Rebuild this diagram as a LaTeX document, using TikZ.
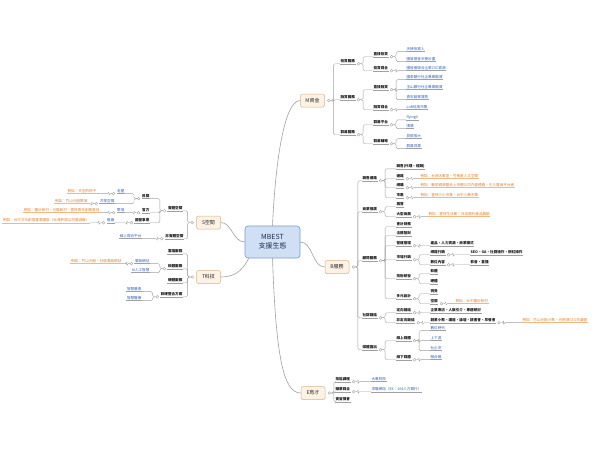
\documentclass[tikz,border=0pt]{standalone}
\usepackage{fontspec}
\setmainfont{Noto Sans CJK TC}
\usepackage{tikz}
\usepackage{xcolor}
\definecolor{rootfill}{RGB}{207, 224, 245}
\definecolor{rootline}{RGB}{120, 155, 205}
\definecolor{rootink}{RGB}{30, 45, 80}
\definecolor{boxfill}{RGB}{253, 242, 228}
\definecolor{boxline}{RGB}{215, 180, 140}
\definecolor{linkgray}{RGB}{160, 160, 160}
\definecolor{bluefig}{RGB}{45, 95, 185}
\definecolor{orangefig}{RGB}{230, 125, 35}
\definecolor{orangeline}{RGB}{240, 185, 130}
\tikzset{
    rootbox/.style={draw=rootline, fill=rootfill, rounded corners=3pt, line width=0.6pt, minimum width=55pt, minimum height=32pt, align=center, text=rootink, font=\fontsize{7}{9}\selectfont},
    branchbox/.style={draw=boxline, fill=boxfill, rounded corners=2pt, line width=0.5pt, minimum width=24pt, minimum height=13pt, inner sep=1pt, font=\fontsize{5}{6}\selectfont, text=black!85},
    topic/.style={anchor=west, inner xsep=0.4pt, inner ysep=0.8pt, font=\fontsize{3.6}{4}\selectfont\bfseries, text=black!90},
    ltopic/.style={topic, anchor=east},
    bluetext/.style={text=bluefig, font=\fontsize{3.6}{4}\selectfont},
    orangetext/.style={text=orangefig, font=\fontsize{3.6}{4}\selectfont},
    knob/.style={circle, draw=linkgray, fill=white, line width=0.35pt, inner sep=0pt, minimum size=2.8pt},
    link/.style={line width=0.4pt, color=linkgray, rounded corners=1.5pt},
    curvelink/.style={line width=0.6pt, color=linkgray}
}
\newcommand{\rlink}[3][linkgray]{%
    \draw[link] (#2.east) -- ++(3,0) |- (#3.south west);
    \draw[link, color=#1] (#3.south west) -- (#3.south east);}
\newcommand{\llink}[3][linkgray]{%
    \draw[link] (#2.west) -- ++(-3,0) |- (#3.south east);
    \draw[link, color=#1] (#3.south east) -- (#3.south west);}

\begin{document}
\begin{tikzpicture}[x=1pt, y=-1pt]
    \path[use as bounding box, fill=white] (0,0) rectangle (600,448);

    % centre and the five branches
    \node[rootbox] (root) at (272.5,242) {MBEST\\支援生態};
    \node[branchbox] (M) at (312.5,100.5) {M資金};
    \node[branchbox] (B) at (337,267) {B服務};
    \node[branchbox] (E) at (313,393) {E育才};
    \node[branchbox] (S) at (208.5,222.5) {S空間};
    \node[branchbox] (T) at (208.5,277) {T科技};

    \draw[curvelink] (root.north) .. controls (275,170) and (283,100.5) .. (M.west);
    \draw[curvelink] (root.east) .. controls (313,242) and (312,267) .. (B.west);
    \draw[curvelink] (root.south) .. controls (276,360) and (284,393) .. (E.west);
    \draw[curvelink] (root.west) .. controls (233,242) and (232,222.5) .. (S.east);
    \draw[curvelink] ([xshift=4pt]root.south west) .. controls (242,272) and (233,277) .. (T.east);

    % M
    \node[topic] (m1) at (340,61) {投資服務};
    \node[topic] (m11) at (373,54) {直接投資};
    \node[topic, bluetext] (m111) at (406,49) {天使投資人};
    \node[topic, bluetext] (m112) at (406,59) {國發基金天使計畫};
    \node[topic] (m12) at (373,68) {投資媒合};
    \node[topic, bluetext] (m121) at (406,68) {國發會媒合企業CVC資源};
    \node[topic] (m2) at (340,97) {融資服務};
    \node[topic] (m21) at (373,87) {直接融資};
    \node[topic, bluetext] (m211) at (406,77) {國泰銀行社企專案融資};
    \node[topic, bluetext] (m212) at (406,87) {玉山銀行社企專案融資};
    \node[topic, bluetext] (m213) at (406,97) {青年創業貸款};
    \node[topic] (m22) at (373,107) {融資媒合};
    \node[topic, bluetext] (m221) at (406,107) {LnB信用市集};
    \node[topic] (m3) at (340,132) {群募服務};
    \node[topic] (m31) at (373,122) {群募平台};
    \node[topic, bluetext] (m311) at (406,117) {flyingV};
    \node[topic, bluetext] (m312) at (406,126) {嘖嘖};
    \node[topic] (m32) at (373,141) {群募輔導};
    \node[topic, bluetext] (m321) at (406,136) {貝殼放大};
    \node[topic, bluetext] (m322) at (406,146) {群募貝果};

    % B
    \node[topic] (b1) at (362,178) {銷售通路};
    \node[topic] (b11) at (396,166) {銷售(代理、經銷)};
    \node[topic] (b12) at (396,176) {通路};
    \node[topic, orangetext] (b121) at (420,176) {例如：台西冰果室、竹南是人文空間};
    \node[topic] (b13) at (396,185) {網購};
    \node[topic, orangetext] (b131) at (420,185) {例如：動態資源整合上市櫃公司內部通路，引入電商平台者};
    \node[topic] (b14) at (396,195) {市集};
    \node[topic, orangetext] (b141) at (420,195) {例如：雲林三小市集、台中小農市集};
    \node[topic] (b2) at (362,209) {商業推廣};
    \node[topic] (b21) at (396,204) {展覽};
    \node[topic] (b22) at (396,214) {大型商展};
    \node[topic, orangetext] (b221) at (428,214) {例如：雲林生活節、日本國外產品展館};
    \node[topic] (b3) at (362,258) {顧問服務};
    \node[topic] (b31) at (396,224) {會計財務};
    \node[topic] (b32) at (396,233) {法務智財};
    \node[topic] (b33) at (396,243) {營運管理};
    \node[topic] (b331) at (430,243) {產品、人力資源、商業模式};
    \node[topic] (b34) at (396,257) {市場行銷};
    \node[topic] (b341) at (430,252) {網路行銷};
    \node[topic] (b3411) at (470,252) {SEO、GA、社群操作、網紅操作};
    \node[topic] (b342) at (430,262) {數位內容};
    \node[topic] (b3421) at (470,262) {影音、直播};
    \node[topic] (b35) at (396,276) {技術研發};
    \node[topic] (b351) at (430,271) {軟體};
    \node[topic] (b352) at (430,281) {硬體};
    \node[topic] (b36) at (396,296) {多元設計};
    \node[topic] (b361) at (430,291) {視覺};
    \node[topic] (b362) at (430,301) {空間};
    \node[topic, orangetext] (b3621) at (455,301) {例如：台中審計新村};
    \node[topic] (b4) at (362,315) {社群鏈結};
    \node[topic] (b41) at (396,310) {定向鏈結};
    \node[topic] (b411) at (430,310) {企業專訪、人脈引介、專題研討};
    \node[topic] (b42) at (396,320) {非定向鏈結};
    \node[topic] (b421) at (430,320) {創業小聚、講座、論壇、讀書會、早餐會};
    \node[topic, orangetext] (b4211) at (522,320) {例如：竹山光點小聚、光明頂CEO共識營};
    \node[topic] (b5) at (362,347) {媒體露出};
    \node[topic] (b51) at (396,338) {線上媒體};
    \node[topic, bluetext] (b511) at (430,328) {數位時代};
    \node[topic, bluetext] (b512) at (430,338) {上下游};
    \node[topic, bluetext] (b513) at (430,348) {社企流};
    \node[topic] (b52) at (396,357) {線下媒體};
    \node[topic, bluetext] (b521) at (430,357) {聯合報};

    % E
    \node[topic] (e1) at (335,379) {技能課程};
    \node[topic, bluetext] (e11) at (371,379) {大專院校};
    \node[topic] (e2) at (335,389) {職業媒合};
    \node[topic, bluetext] (e21) at (371,389) {求職網站（EX：104人力銀行）};
    \node[topic] (e3) at (335,399) {實習機會};

    % S
    \node[ltopic] (s1) at (183,208) {實體空間};
    \node[ltopic] (s11) at (150,196) {民間};
    \node[ltopic, bluetext] (s111) at (125,191) {老屋};
    \node[ltopic, orangetext] (s1111) at (97,191) {例如：天空的院子};
    \node[ltopic, bluetext] (s112) at (115,201) {共享空間};
    \node[ltopic, orangetext] (s1121) at (88,201) {例如：竹山光點聚落};
    \node[ltopic] (s12) at (150,210) {官方};
    \node[ltopic, bluetext] (s121) at (125,210) {聚落};
    \node[ltopic, orangetext] (s1211) at (100,210) {例如：審計新村、光復新村、雲林青年創業基地};
    \node[ltopic] (s13) at (150,220) {國營事業};
    \node[ltopic, bluetext] (s131) at (115,220) {舊廠};
    \node[ltopic, orangetext] (s1311) at (90,220) {例如：台中文化創意產業園區（台灣菸酒公司舊酒廠）};
    \node[ltopic] (s2) at (184,236) {非實體空間};
    \node[ltopic, bluetext] (s21) at (142,236) {線上媒合平台};

    % T
    \node[ltopic] (t1) at (183,251) {雲端服務};
    \node[ltopic] (t2) at (183,266) {軟體服務};
    \node[ltopic, bluetext] (t21) at (150,261) {電商網站};
    \node[ltopic, orangetext] (t211) at (122,261) {例如：竹山光點、社區電商網站};
    \node[ltopic, bluetext] (t22) at (150,270) {AI人工智慧};
    \node[ltopic] (t3) at (183,280) {硬體服務};
    \node[ltopic] (t4) at (183,294) {軟硬整合方案};
    \node[ltopic, bluetext] (t41) at (142,289) {智慧農業};
    \node[ltopic, bluetext] (t42) at (142,298) {智慧醫療};

    % knobs
    \node[knob] (Mo) at ([xshift=4pt]M.east) {};
    \node[knob] (Bo) at ([xshift=4pt]B.east) {};
    \node[knob] (Eo) at ([xshift=4pt]E.east) {};
    \node[knob] (So) at ([xshift=-4pt]S.west) {};
    \node[knob] (To) at ([xshift=-4pt]T.west) {};
    \foreach \n in {m1,m11,m12,m2,m21,m22,m3,m31,m32,
        b1,b12,b13,b14,b2,b22,b3,b33,b34,b341,b342,b35,b36,b362,b4,b41,b42,b421,b5,b51,b52,
        e1,e2}
        \node[knob] (\n-o) at ([xshift=3pt]\n.south east) {};
    \foreach \n in {s1,s11,s111,s112,s12,s121,s13,s131,s2,t2,t21,t4}
        \node[knob] (\n-o) at ([xshift=-3pt]\n.south west) {};

    % connectors
    \foreach \p/\c in {Mo/m1,Mo/m2,Mo/m3,m1-o/m11,m1-o/m12,m11-o/m111,m11-o/m112,m12-o/m121,
        m2-o/m21,m2-o/m22,m21-o/m211,m21-o/m212,m21-o/m213,m22-o/m221,
        m3-o/m31,m3-o/m32,m31-o/m311,m31-o/m312,m32-o/m321,m32-o/m322,
        Bo/b1,Bo/b2,Bo/b3,Bo/b4,Bo/b5,b1-o/b11,b1-o/b12,b1-o/b13,b1-o/b14,
        b2-o/b21,b2-o/b22,b3-o/b31,b3-o/b32,b3-o/b33,b3-o/b34,b3-o/b35,b3-o/b36,
        b33-o/b331,b34-o/b341,b34-o/b342,b341-o/b3411,b342-o/b3421,b35-o/b351,b35-o/b352,
        b36-o/b361,b36-o/b362,b4-o/b41,b4-o/b42,b41-o/b411,b42-o/b421,
        b5-o/b51,b5-o/b52,b51-o/b511,b51-o/b512,b51-o/b513,b52-o/b521,
        Eo/e1,Eo/e2,Eo/e3,e1-o/e11,e2-o/e21}
        {\rlink{\p}{\c}}
    \foreach \p/\c in {b12-o/b121,b13-o/b131,b14-o/b141,b22-o/b221,b362-o/b3621,b421-o/b4211}
        {\rlink[orangeline]{\p}{\c}}
    \foreach \p/\c in {So/s1,So/s2,s1-o/s11,s1-o/s12,s1-o/s13,s11-o/s111,s11-o/s112,
        s12-o/s121,s13-o/s131,s2-o/s21,
        To/t1,To/t2,To/t3,To/t4,t2-o/t21,t2-o/t22,t4-o/t41,t4-o/t42}
        {\llink{\p}{\c}}
    \foreach \p/\c in {s111-o/s1111,s112-o/s1121,s121-o/s1211,s131-o/s1311,t21-o/t211}
        {\llink[orangeline]{\p}{\c}}

\end{tikzpicture}
\end{document}
